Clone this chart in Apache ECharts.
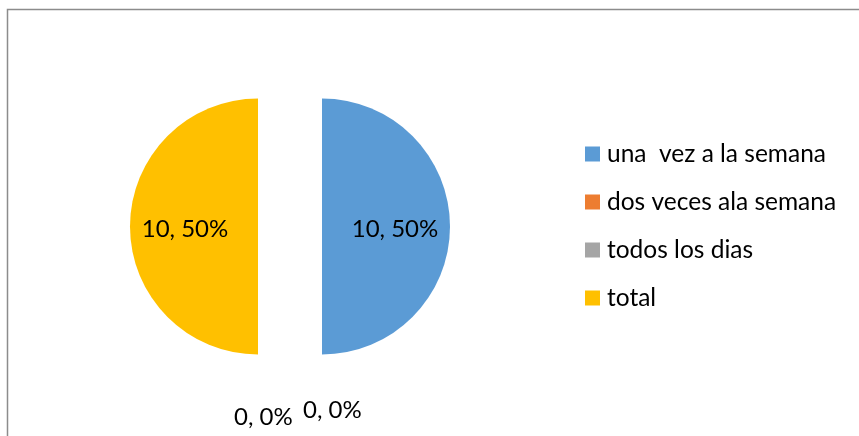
<!DOCTYPE html>
<html>
<head>
<meta charset="utf-8">
<script src="https://cdn.jsdelivr.net/npm/echarts@6/dist/echarts.min.js"></script>
<style>
  html, body { margin: 0; padding: 0; background: #fff; }
  #chart { width: 859px; height: 436px; }
</style>
</head>
<body>
<div id="chart"></div>
<script>
// data
const categories = ['una  vez a la semana', 'dos veces ala semana', 'todos los dias', 'total']
const values = [10, 0, 0, 10]
const colors = ['#5b9bd5', '#ed7d31', '#a5a5a5', '#ffc000']

const font = 'Lato, "Open Sans", sans-serif'

const chart = echarts.init(document.getElementById('chart'), null, { renderer: 'canvas' })

// nudges so labels sit where excel put them (the two 0% ones side by side under the pie)
const labelShift = [
  [6, 3],
  [-91, 16],
  [-22, 9],
  [-6, 3],
]

const option = {
  animation: false,
  backgroundColor: '#fff',
  color: colors,
  graphic: [
    {
      type: 'rect',
      shape: { x: 7.5, y: 9.5, width: 900, height: 500 },
      style: { fill: 'none', stroke: '#8c8c8c', lineWidth: 1.5 },
      silent: true,
    },
  ],
  legend: {
    orient: 'vertical',
    left: 580,
    top: 136,
    icon: 'rect',
    itemWidth: 15,
    itemHeight: 15,
    itemGap: 22,
    selectedMode: false,
    textStyle: { fontFamily: font, fontSize: 24.5, color: '#000', lineHeight: 26, padding: [0, 0, 0, 2] },
    data: categories,
  },
  series: [
    {
      type: 'pie',
      center: [290, 226.5],
      radius: 128,
      startAngle: 90,
      clockwise: true,
      selectedMode: 'multiple',
      selectedOffset: 32,
      avoidLabelOverlap: false,
      emphasis: { disabled: true },
      label: {
        show: true,
        position: 'inside',
        formatter: (p) => p.value + ', ' + Math.round(p.percent) + '%',
        fontFamily: font,
        fontSize: 24,
        color: '#000',
      },
      labelLine: { show: false },
      labelLayout: (p) => ({ dx: labelShift[p.dataIndex][0], dy: labelShift[p.dataIndex][1] }),
      data: categories.map((name, i) => ({
        name,
        value: values[i],
        selected: true,
        label: values[i] === 0 ? { position: 'outside' } : undefined,
      })),
    },
  ],
}

chart.setOption(option)
</script>
</body>
</html>
